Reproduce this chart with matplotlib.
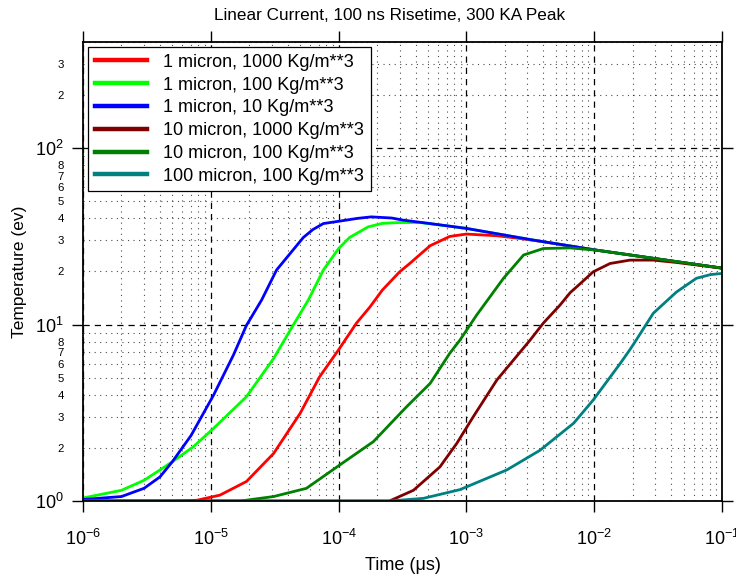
import numpy as np
import matplotlib
matplotlib.use('Agg')
import matplotlib.pyplot as plt
from matplotlib.ticker import LogLocator, FuncFormatter, NullFormatter

plt.rcParams['font.family'] = ['Liberation Sans', 'DejaVu Sans']
plt.rcParams['mathtext.fontset'] = 'custom'
plt.rcParams['mathtext.rm'] = 'Liberation Sans'
plt.rcParams['mathtext.it'] = 'Liberation Sans:italic'

# 1 micron, 1000 Kg/m**3
t_red = [1e-6, 5e-6, 7.8e-6, 1.18e-5, 1.9e-5, 3.1e-5, 5e-5, 7.1e-5, 1e-4, 1.38e-4,
         1.76e-4, 2.2e-4, 3e-4, 3.6e-4, 5.2e-4, 7.4e-4, 1e-3, 1.73e-3, 2.6e-3,
         3.5e-3, 5.4e-3, 1.05e-2, 3.5e-2, 1e-1]
T_red = [1.0, 1.0, 1.01, 1.08, 1.29, 1.86, 3.14, 5.06, 7.2, 10.2,
         12.6, 15.7, 19.9, 22.2, 28.0, 31.6, 32.6, 31.9, 30.8,
         29.9, 28.5, 26.4, 23.3, 20.9]

# 1 micron, 100 Kg/m**3
t_green = [1e-6, 2e-6, 3e-6, 4e-6, 5e-6, 7.3e-6, 1.05e-5, 1.9e-5, 3.1e-5, 4.4e-5,
           5.8e-5, 7.6e-5, 1.0e-4, 1.22e-4, 1.7e-4, 2.2e-4, 3e-4, 4.3e-4, 7.9e-4,
           1e-3, 3.2e-3, 5.4e-3, 1.05e-2, 3.5e-2, 1e-1]
T_green = [1.04, 1.15, 1.31, 1.5, 1.67, 2.03, 2.58, 3.9, 6.43, 9.9,
           13.8, 20.4, 27.0, 31.2, 35.8, 37.5, 37.9, 37.9, 35.9,
           35.1, 30.3, 28.5, 26.4, 23.3, 20.9]

# 1 micron, 10 Kg/m**3
t_blue = [1e-6, 2e-6, 3e-6, 4e-6, 5e-6, 7e-6, 1.05e-5, 1.5e-5, 1.9e-5, 2.5e-5,
          3.27e-5, 5.3e-5, 6.3e-5, 7.6e-5, 1.02e-4, 1.4e-4, 1.8e-4, 2.6e-4, 3.2e-4,
          5.2e-4, 1e-3, 3.2e-3, 5.4e-3, 1.05e-2, 3.5e-2, 1e-1]
T_blue = [1.02, 1.06, 1.18, 1.37, 1.67, 2.35, 3.98, 6.7, 9.9, 13.8,
          20.4, 31.2, 34.6, 37.4, 38.6, 40.0, 40.8, 40.2, 39.1,
          37.4, 35.1, 30.3, 28.5, 26.4, 23.3, 20.9]

# 10 micron, 1000 Kg/m**3
t_dred = [1e-6, 2.5e-4, 3.85e-4, 6.2e-4, 8.4e-4, 1.13e-3, 1.73e-3, 3.15e-3, 4e-3,
          5.4e-3, 6.5e-3, 7.8e-3, 9.8e-3, 1.33e-2, 1.9e-2, 2.9e-2, 4.4e-2, 1e-1]
T_dred = [1.0, 1.0, 1.15, 1.56, 2.12, 3.0, 4.85, 8.17, 10.2,
          12.9, 15.2, 17.1, 19.9, 22.2, 23.2, 23.2, 22.5, 20.9]

# 10 micron, 100 Kg/m**3
t_dgreen = [1e-6, 1.7e-5, 3.1e-5, 5.6e-5, 1.02e-4, 1.87e-4, 3.4e-4, 5.2e-4, 7.4e-4,
            8.9e-4, 1.2e-3, 1.95e-3, 2.8e-3, 4e-3, 6.5e-3, 1.05e-2, 3.5e-2, 1e-1]
T_dgreen = [1.0, 1.0, 1.06, 1.18, 1.6, 2.17, 3.42, 4.64, 6.87,
            8.17, 11.3, 18.3, 24.8, 27.0, 27.2, 26.4, 23.3, 20.9]

# 100 micron, 100 Kg/m**3
t_teal = [1e-6, 2.5e-4, 4.6e-4, 8.9e-4, 2.07e-3, 3.77e-3, 6.9e-3, 9.8e-3, 1.6e-2,
          1.9e-2, 2.13e-2, 2.9e-2, 4.4e-2, 6.3e-2, 8.1e-2, 1e-1]
T_teal = [1.0, 1.0, 1.035, 1.16, 1.5, 1.94, 2.76, 3.73, 6.03,
          7.2, 8.17, 11.6, 15.3, 18.3, 19.2, 19.5]

series = [
    (t_red, T_red, '#ff0000', '1 micron, 1000 Kg/m**3'),
    (t_green, T_green, '#00ff00', '1 micron, 100 Kg/m**3'),
    (t_blue, T_blue, '#0000ff', '1 micron, 10 Kg/m**3'),
    (t_dred, T_dred, '#800000', '10 micron, 1000 Kg/m**3'),
    (t_dgreen, T_dgreen, '#008000', '10 micron, 100 Kg/m**3'),
    (t_teal, T_teal, '#008080', '100 micron, 100 Kg/m**3'),
]

fig = plt.figure(figsize=(7.36, 5.8), dpi=100)
ax = fig.add_axes([0.1128, 0.1362, 0.8682, 0.7914])

for t, T, c, lab in series:
    ax.plot(t, T, color=c, lw=2.0, label=lab, solid_joinstyle='round')

ax.set_xscale('log')
ax.set_yscale('log')
ax.set_xlim(1e-6, 1e-1)
ax.set_ylim(1, 400)

ax.yaxis.set_minor_locator(LogLocator(base=10, subs=np.arange(2, 10)))
ax.xaxis.set_minor_locator(LogLocator(base=10, subs=np.arange(2, 10)))
ax.xaxis.set_minor_formatter(NullFormatter())


def minor_label(v, pos):
    m = int(round(v / 10 ** np.floor(np.log10(v) + 1e-9)))
    if 2 <= m <= 8 and v < 390:
        return str(m)
    return ''


ax.yaxis.set_minor_formatter(FuncFormatter(minor_label))

ax.grid(which='major', color='black', linestyle=(0, (5, 4)), lw=0.9)
ax.grid(which='minor', color='black', linestyle=(0, (1, 4)), lw=0.8, alpha=0.7)

ax.tick_params(which='major', direction='out', length=8, width=1.0,
               top=True, right=True, labelsize=13)
ax.tick_params(axis='x', which='major', pad=12)
ax.tick_params(axis='y', which='major', pad=6)
ax.tick_params(which='minor', length=0, labelsize=8.2)
ax.tick_params(axis='y', which='minor', pad=14)
for s in ax.spines.values():
    s.set_linewidth(1.3)

ax.set_title('Linear Current, 100 ns Risetime, 300 KA Peak', fontsize=12.3,
             pad=16, x=0.479)
ax.set_xlabel('Time (μs)', fontsize=13)
ax.set_ylabel('Temperature (ev)', fontsize=12.5)
ax.xaxis.set_label_coords(0.5, -0.122)
ax.yaxis.set_label_coords(-0.087, 0.5)

leg = ax.legend(loc='upper left', fontsize=13, frameon=True, fancybox=False,
                edgecolor='black', framealpha=1, borderaxespad=0.3,
                handlelength=2.9, handletextpad=0.9, labelspacing=0.32,
                borderpad=0.35)
leg.get_frame().set_linewidth(0.9)
for h in leg.legend_handles:
    h.set_linewidth(3.2)

fig.savefig('out.png', dpi=100)
